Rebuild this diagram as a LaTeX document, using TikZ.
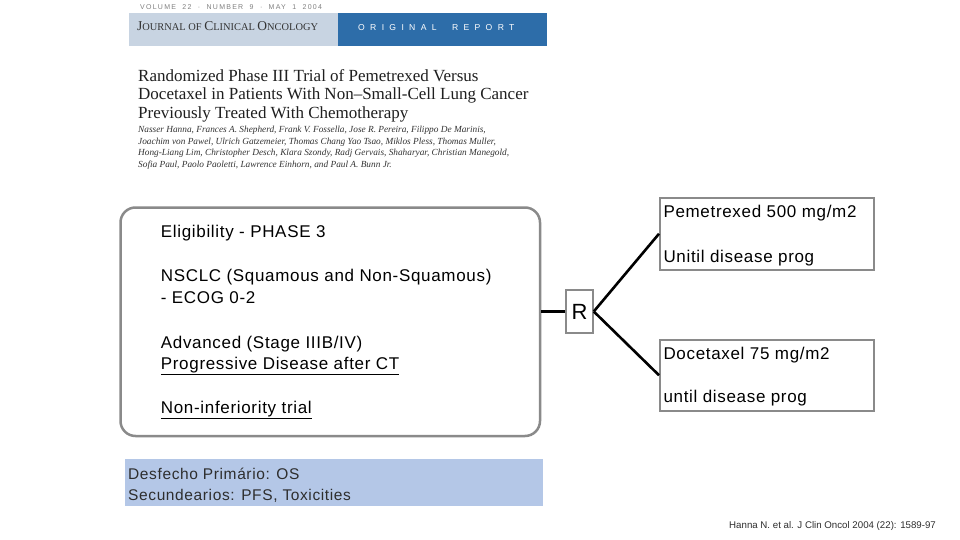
\documentclass[tikz,border=0pt]{standalone}
\usepackage{fontspec}
\setmainfont{Liberation Sans}
\newfontfamily\ttlfont[Ligatures=TeX]{Liberation Serif}
\newfontfamily\armain[LetterSpace=4]{Liberation Sans}
\newfontfamily\wide[LetterSpace=62]{Liberation Sans}
\newfontfamily\semiwide[LetterSpace=18]{Liberation Sans}
\definecolor{bandlight}{HTML}{C8D4E2}
\definecolor{banddark}{HTML}{2D6DA9}
\definecolor{boxgray}{HTML}{8A8A8A}
\definecolor{outcome}{HTML}{B4C7E7}
\definecolor{txtgray}{HTML}{2E2E2E}
\begin{document}
\begin{tikzpicture}[x=1pt,y=-1pt,
  lbl/.style={inner sep=0pt, anchor=base west, font=\armain\fontsize{17}{20}\selectfont},
  armbox/.style={draw=boxgray, line width=1.5pt, minimum width=214pt, minimum height=72pt, anchor=north west, inner sep=0pt},
  conn/.style={line width=2.6pt, black},
  ttl/.style={inner sep=0pt, anchor=base west, font=\ttlfont\fontsize{17}{20}\selectfont, text=black!88},
  auth/.style={inner sep=0pt, anchor=base west, font=\ttlfont\itshape\fontsize{9.3}{10}\selectfont, text=black!80},
  outtxt/.style={inner sep=0pt, anchor=base west, font=\armain\fontsize{15.5}{17}\selectfont, text=txtgray}]
\useasboundingbox (0,0) rectangle (960,540);
\fill[white] (0,0) rectangle (960,540);

% journal header
\node[inner sep=0pt, anchor=base west, text=gray, font=\semiwide\fontsize{7}{8}\selectfont] (vol) at (140,9.3) {VOLUME\ \ 22\ \ ·\ \ NUMBER\ \ 9\ \ ·\ \ MAY\ \ 1\ \ 2004};
\node[fill=bandlight, minimum width=209pt, minimum height=33pt, anchor=north west, inner sep=0pt] (jband) at (128.3,12.7) {};
\node[fill=banddark, minimum width=209.4pt, minimum height=33pt, anchor=north west, inner sep=0pt] (rband) at (337.3,12.7) {};
\node[inner sep=0pt, anchor=base west, text=black!80, font=\ttlfont] (jname) at (137,30.7) {{\fontsize{13.5}{14}\selectfont J}{\fontsize{10.4}{11}\selectfont OURNAL OF }{\fontsize{13.5}{14}\selectfont C}{\fontsize{10.4}{11}\selectfont LINICAL }{\fontsize{13.5}{14}\selectfont O}{\fontsize{10.4}{11}\selectfont NCOLOGY}};
\node[inner sep=0pt, anchor=base west, text=white, font=\wide\fontsize{8.6}{9}\selectfont] (orig) at (358,31) {ORIGINAL\ \ REPORT};

% title
\node[ttl] (t1) at (138,81.7) {Randomized Phase III Trial of Pemetrexed Versus};
\node[ttl] (t2) at (138,100) {Docetaxel in Patients With Non–Small-Cell Lung Cancer};
\node[ttl] (t3) at (138,118.3) {Previously Treated With Chemotherapy};

% authors
\node[auth] (a1) at (138,132.3) {Nasser Hanna, Frances A. Shepherd, Frank V. Fossella, Jose R. Pereira, Filippo De Marinis,};
\node[auth] (a2) at (138,144.3) {Joachim von Pawel, Ulrich Gatzemeier, Thomas Chang Yao Tsao, Miklos Pless, Thomas Muller,};
\node[auth] (a3) at (138,156) {Hong-Liang Lim, Christopher Desch, Klara Szondy, Radj Gervais, Shaharyar, Christian Manegold,};
\node[auth] (a4) at (138,167.7) {Sofia Paul, Paolo Paoletti, Lawrence Einhorn, and Paul A. Bunn Jr.};

% eligibility box
\node[draw=boxgray, line width=2.5pt, rounded corners=15pt, minimum width=419.5pt, minimum height=228.5pt, inner sep=0pt] (elig) at (330.25,321.75) {};
\node[lbl] (e1) at (160.7,237.7) {Eligibility - PHASE 3};
\node[lbl] (e2) at (160.7,281.7) {NSCLC (Squamous and Non-Squamous)};
\node[lbl] (e3) at (160.7,303.3) {- ECOG 0-2};
\node[lbl] (e4) at (160.7,348.3) {Advanced (Stage IIIB/IV)};
\node[lbl] (e5) at (160.7,369.3) {\underline{Progressive Disease after CT}};
\node[lbl] (e6) at (160.7,413.3) {\underline{Non-inferiority trial}};

% randomisation
\node[draw=boxgray, line width=1.5pt, minimum width=27pt, minimum height=43pt, inner sep=0pt, font=\fontsize{22}{22}\selectfont] (R) at (579.5,311.5) {R};

% arms
\node[armbox] (pem) at (659,197) {};
\node[lbl] (p1) at (663.3,217.3) {Pemetrexed 500 mg/m2};
\node[lbl] (p2) at (663.3,262.3) {Unitil disease prog};
\node[armbox, minimum height=71pt] (doc) at (659,339) {};
\node[lbl] (d1) at (663.3,359) {Docetaxel 75 mg/m2};
\node[lbl] (d2) at (663.3,402.7) {until disease prog};

% connectors
\draw[conn] (R.west) -- (R.west -| elig.east);
\draw[conn] (R.east) -- (pem.west);
\draw[conn] (R.east) -- (doc.west);

% outcomes
\node[fill=outcome, anchor=north west, minimum width=418pt, minimum height=47pt, inner sep=0pt] (out) at (125,459) {};
\node[outtxt] (o1) at (128,479) {Desfecho Primário: OS};
\node[outtxt] (o2) at (128,500) {Secundearios: PFS, Toxicities};

% citation
\node[inner sep=0pt, anchor=base west, font=\fontsize{9.7}{10}\selectfont, text=txtgray] (cite) at (729,528.3) {Hanna N. et al. J Clin Oncol 2004 (22): 1589-97};
\end{tikzpicture}
\end{document}
